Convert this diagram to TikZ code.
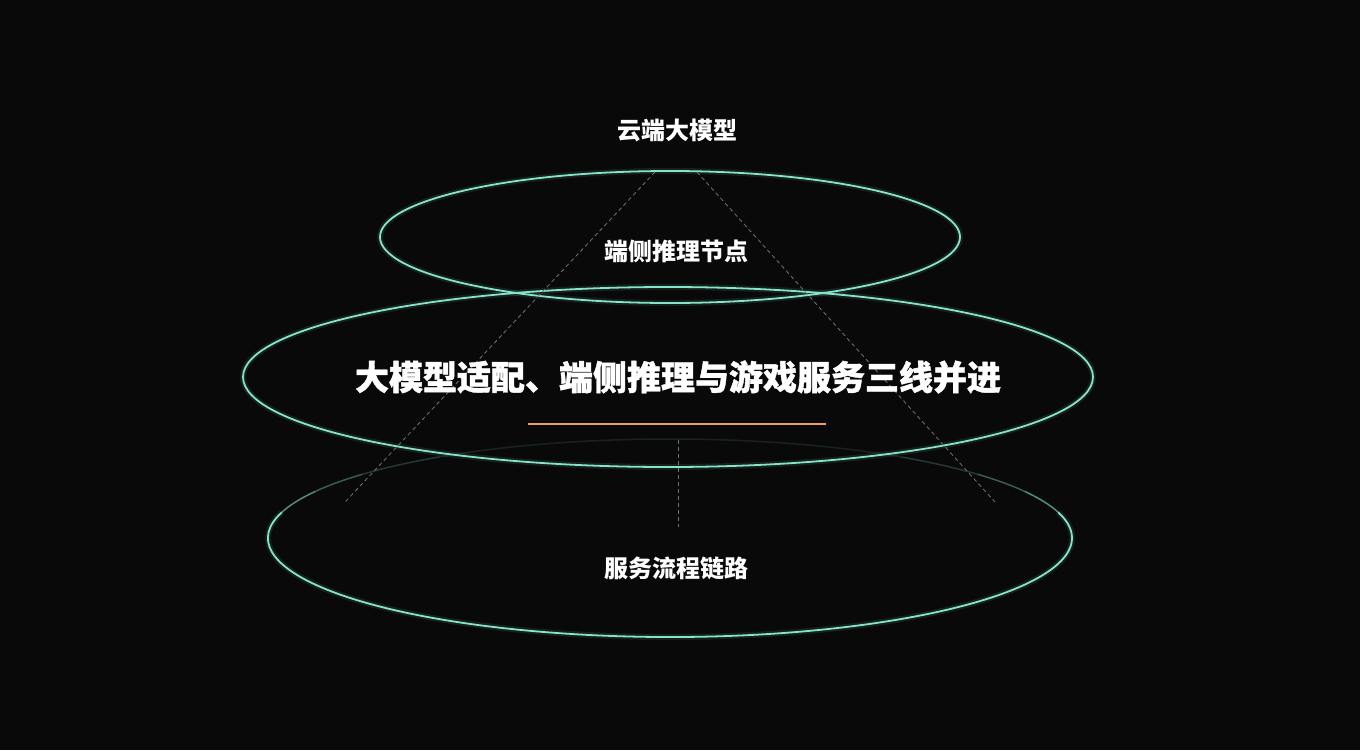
\documentclass[tikz,border=0pt]{standalone}
\usepackage{fontspec}
\newfontfamily\cjk{Noto Sans CJK SC}
\newfontfamily\cjkt[FakeBold=1.2]{Noto Sans CJK SC}
\usetikzlibrary{calc}
\definecolor{bg}{RGB}{9,9,9}
\definecolor{ringc}{RGB}{135,228,204}
\definecolor{guidec}{RGB}{115,115,115}
\definecolor{accent}{RGB}{236,160,92}
\begin{document}
\begin{tikzpicture}[x=1pt,y=-1pt,
  ring/.style={draw=ringc, line width=1.8pt},
  glow/.style={draw=ringc, line width=6pt, opacity=0.10},
  guide/.style={draw=guidec, line width=0.8pt, dash pattern=on 4pt off 3pt},
  lbl/.style={text=white, inner sep=0pt, font=\cjk\bfseries\fontsize{24}{28}\selectfont},
  ttl/.style={text=white, inner sep=0pt, font=\cjkt\bfseries\fontsize{34}{40}\selectfont}]
\fill[bg] (0,0) rectangle (1360,750);
\useasboundingbox (0,0) rectangle (1360,750);
\coordinate (ctop) at (670,237);
\coordinate (cmid) at (668,377);
\coordinate (cbot) at (670,538);
% bottom ellipse: back arc fading, front arc bright
\foreach \a/\b/\o in {15/28/0.6, 28/40/0.38, 40/55/0.22, 55/125/0.12, 125/140/0.22, 140/152/0.38, 152/165/0.6}{
  \draw[ring, line width=1.5pt, opacity=\o] ($(cbot)+(\a:402pt and 99pt)$) arc[start angle=\a,end angle=\b,x radius=402pt,y radius=99pt];
}
\draw[glow] ($(cbot)+(165:402pt and 99pt)$) arc[start angle=165,end angle=375,x radius=402pt,y radius=99pt];
\draw[ring] ($(cbot)+(165:402pt and 99pt)$) arc[start angle=165,end angle=375,x radius=402pt,y radius=99pt];
% middle ellipse
\draw[glow] (cmid) ellipse[x radius=425pt,y radius=90pt];
\draw[ring] (cmid) ellipse[x radius=425pt,y radius=90pt];
% top ellipse
\draw[glow] (ctop) ellipse[x radius=290pt,y radius=66pt];
\draw[ring] (ctop) ellipse[x radius=290pt,y radius=66pt];
% guides
\coordinate (apexL) at (655,172);
\coordinate (footL) at (345,502);
\coordinate (apexR) at (697,172);
\coordinate (footR) at (995,502);
\coordinate (stemT) at (678,440);
\coordinate (stemB) at (678,527);
\draw[guide] (apexL) -- (footL);
\draw[guide] (apexR) -- (footR);
\draw[guide] (stemT) -- (stemB);
% accent line
\coordinate (accL) at (528,424);
\coordinate (accR) at (826,424);
\draw[accent, line width=2.2pt] (accL) -- (accR);
% labels
\node[lbl] (cloud) at (677,130) {云端大模型};
\node[lbl] (edge) at (676,251) {端侧推理节点};
\node[ttl] (title) at (678,377) {大模型适配、端侧推理与游戏服务三线并进};
\node[lbl] (flow) at (676,568) {服务流程链路};
\end{tikzpicture}
\end{document}
